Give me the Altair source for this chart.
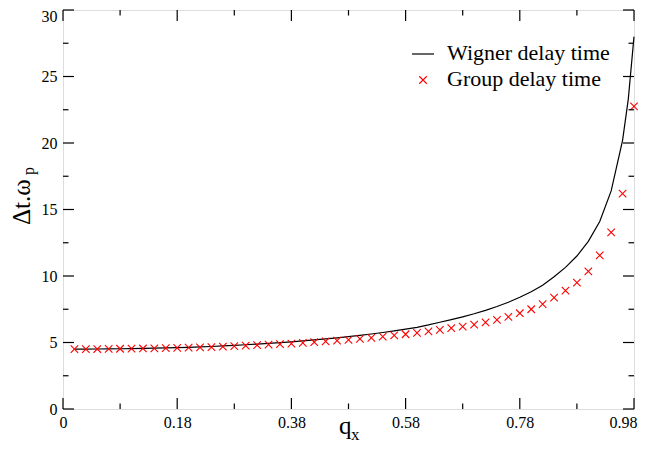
import altair as alt
import pandas as pd

# ---------------- data ----------------
q_group = [0.00, 0.02, 0.04, 0.06, 0.08, 0.10, 0.12, 0.14, 0.16, 0.18,
           0.20, 0.22, 0.24, 0.26, 0.28, 0.30, 0.32, 0.34, 0.36, 0.38,
           0.40, 0.42, 0.44, 0.46, 0.48, 0.50, 0.52, 0.54, 0.56, 0.58,
           0.60, 0.62, 0.64, 0.66, 0.68, 0.70, 0.72, 0.74, 0.76, 0.78,
           0.80, 0.82, 0.84, 0.86, 0.88, 0.90, 0.92, 0.94, 0.96, 0.98]
group_delay = [4.50, 4.50, 4.51, 4.52, 4.53, 4.54, 4.55, 4.56, 4.57, 4.59,
               4.61, 4.63, 4.66, 4.69, 4.72, 4.76, 4.80, 4.84, 4.88, 4.92,
               4.97, 5.02, 5.08, 5.14, 5.20, 5.28, 5.35, 5.44, 5.53, 5.62,
               5.72, 5.83, 5.95, 6.08, 6.20, 6.34, 6.52, 6.70, 6.93, 7.20,
               7.50, 7.88, 8.38, 8.90, 9.50, 10.35, 11.55, 13.28, 16.19, 22.75]

q_wigner = [0.00, 0.02, 0.04, 0.06, 0.08, 0.10, 0.12, 0.14, 0.16, 0.18,
            0.20, 0.22, 0.24, 0.26, 0.28, 0.30, 0.32, 0.34, 0.36, 0.38,
            0.40, 0.42, 0.44, 0.46, 0.48, 0.50, 0.52, 0.54, 0.56, 0.58,
            0.60, 0.62, 0.64, 0.66, 0.68, 0.70, 0.72, 0.74, 0.76, 0.78,
            0.80, 0.82, 0.84, 0.86, 0.88, 0.90, 0.92, 0.94, 0.96, 0.97, 0.98]
wigner_delay = [4.50, 4.50, 4.51, 4.52, 4.53, 4.54, 4.56, 4.57, 4.59, 4.61,
                4.64, 4.67, 4.70, 4.74, 4.78, 4.83, 4.88, 4.93, 4.99, 5.05,
                5.12, 5.19, 5.27, 5.35, 5.44, 5.54, 5.64, 5.75, 5.87, 6.00,
                6.14, 6.32, 6.52, 6.72, 6.93, 7.16, 7.42, 7.71, 8.03, 8.40,
                8.82, 9.30, 9.95, 10.65, 11.50, 12.60, 14.10, 16.40, 20.20, 23.30, 28.00]

x_major = [-0.02, 0.18, 0.38, 0.58, 0.78, 0.98]
x_minor = [0.08, 0.28, 0.48, 0.68, 0.88]
y_major = [0, 5, 10, 15, 20, 25, 30]
y_minor = [2.5, 7.5, 12.5, 17.5, 22.5, 27.5]

legend_labels = ["Wigner delay time", "Group delay time"]
x_title = ["q", "x"]
y_title = ["Δt.ω", "p"]

# ---------------- styling ----------------
W, H = 571, 399
FONT = "Liberation Serif, Times New Roman, Times, DejaVu Serif, serif"
MAJ, MIN = 11, 5.5
CROSS = "M-1,-1L1,1M1,-1L-1,1"

xs = alt.Scale(domain=[-0.02, 0.98], nice=False, zero=False)
ys = alt.Scale(domain=[0, 30], nice=False, zero=False)

x_axis = alt.Axis(values=x_major, ticks=False, domain=False, grid=False, title=None,
                  labelExpr="datum.value < 0 ? '0' : format(datum.value, '.2f')",
                  labelFont=FONT, labelFontSize=16, labelColor="black",
                  labelPadding=5, labelFlush=False, labelOverlap=False,
                  labelOffset={"condition": {"test": "datum.value > 0.9", "value": -11}, "value": 0})
y_axis = alt.Axis(values=y_major, ticks=False, domain=False, grid=False, title=None,
                  format="d", labelFont=FONT, labelFontSize=16, labelColor="black",
                  labelPadding=6, labelFlush=False, labelOverlap=False,
                  labelOffset={"condition": {"test": "datum.value == 30", "value": 6}, "value": 0})

X = alt.X("q:Q", scale=xs, axis=x_axis)
Y = alt.Y("v:Q", scale=ys, axis=y_axis)

wig = pd.DataFrame({"q": q_wigner, "v": wigner_delay})
grp = pd.DataFrame({"q": q_group, "v": group_delay})

line = alt.Chart(wig).mark_line(color="black", strokeWidth=1.2, clip=False).encode(x=X, y=Y)
pts = alt.Chart(grp).mark_point(shape=CROSS, filled=False, color="#ff0000", size=56,
                                strokeWidth=1.1, opacity=1).encode(x=X, y=Y)


def xticks(vals, length, top):
    df = pd.DataFrame({"q": vals})
    if top:
        yy, yy2 = alt.value(0), alt.value(length)
    else:
        yy, yy2 = alt.value(H), alt.value(H - length)
    return alt.Chart(df).mark_rule(color="black", strokeWidth=1.2).encode(x=X, y=yy, y2=yy2)


def yticks(vals, length, right):
    df = pd.DataFrame({"v": vals})
    if right:
        xx, xx2 = alt.value(W), alt.value(W - length)
    else:
        xx, xx2 = alt.value(0), alt.value(length)
    return alt.Chart(df).mark_rule(color="black", strokeWidth=1.2).encode(y=Y, x=xx, x2=xx2)


ticks = [xticks(x_major, MAJ, False), xticks(x_minor, MIN, False),
         xticks(x_major, MAJ, True), xticks(x_minor, MIN, True),
         yticks(y_major, MAJ, False), yticks(y_minor, MIN, False),
         yticks(y_major, MAJ, True), yticks(y_minor, MIN, True)]


def label(txt, x, y, size, align="left", baseline="alphabetic", angle=0):
    return alt.Chart(pd.DataFrame({"t": [txt]})).mark_text(
        font=FONT, fontSize=size, color="black", align=align, baseline=baseline, angle=angle
    ).encode(x=alt.value(x), y=alt.value(y), text="t:N")


one = pd.DataFrame({"a": [0]})
leg_line = alt.Chart(one).mark_rule(color="black", strokeWidth=1.2).encode(
    x=alt.value(349), x2=alt.value(371), y=alt.value(44))
leg_pt = alt.Chart(one).mark_point(shape=CROSS, filled=False, color="#ff0000", size=56,
                                   strokeWidth=1.1, opacity=1).encode(
    x=alt.value(360), y=alt.value(70))

texts = [
    label(legend_labels[0], 384, 49.5, 22),
    label(legend_labels[1], 384, 75.5, 22),
    label(x_title[0], 276, 424, 25),
    label(x_title[1], 288, 430, 17),
    label(y_title[0], -33, 215, 25, angle=270),
    label(y_title[1], -29.5, 165, 16, angle=270),
]

chart = alt.layer(line, pts, *ticks, leg_line, leg_pt, *texts).properties(
    width=W, height=H,
    padding={"left": 55, "top": 2, "right": 5, "bottom": 36},
    autosize="none",
).configure_view(stroke="black", strokeWidth=2).configure(background="white")

chart.save("out.html", embed_options={"renderer": "svg", "actions": False})
